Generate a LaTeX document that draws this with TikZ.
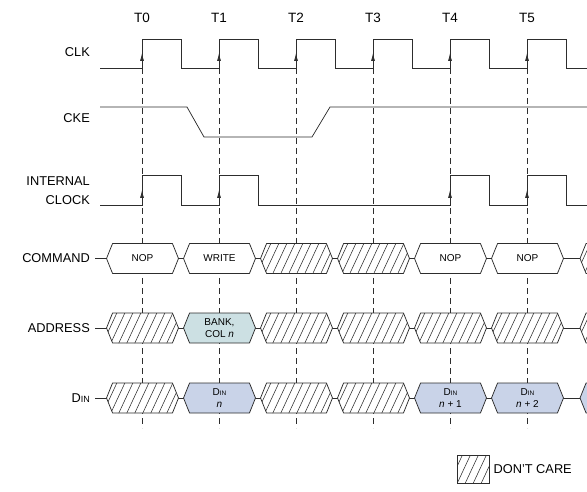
\documentclass[tikz,border=0pt]{standalone}
\usepackage{fontspec}
\setmainfont{Liberation Sans}
\usetikzlibrary{arrows.meta, shapes.symbols}

\definecolor{inkgray}{RGB}{45,45,45}
\definecolor{bankfill}{RGB}{204,224,227}
\definecolor{dinfill}{RGB}{201,211,232}

\begin{document}
\begin{tikzpicture}[
    x=1pt, y=-1pt,
    >=Latex,
    wave/.style={draw=inkgray, line width=0.75pt},
    clkline/.style={draw=inkgray, line width=0.6pt, dash pattern=on 6pt off 4pt},
    edgearrow/.style={-{Latex[length=8pt,width=4pt]}, draw=inkgray, line width=0.75pt},
    rowlabel/.style={anchor=east, inner sep=0pt, align=right, font=\fontsize{12.8}{19}\selectfont},
    ticklabel/.style={inner sep=0pt, font=\fontsize{13.5}{15}\selectfont},
    cell/.style={signal, signal to=east and west, signal pointer angle=136, draw=inkgray, line width=0.75pt,
        fill=white, minimum width=72pt, minimum height=30pt, inner sep=0pt, align=center,
        font=\fontsize{10}{12.5}\selectfont},
    hatch/.style={path picture={
        \foreach \h in {-90,-82,...,90}
          \draw[inkgray, line width=0.55pt] ([shift={(\h pt,-5pt)}]path picture bounding box.south) -- ++(18.7pt,40pt);
    }},
    bankcell/.style={fill=bankfill},
    dincell/.style={fill=dinfill},
    blankcell/.style={}
]
\clip (0,0) rectangle (587,492);

% clock numbers
\foreach \k in {0,...,5}
  \node[ticklabel] (t\k) at ({142+77*\k},18) {T\k};

% row names
\node[rowlabel] (clk) at (90,52) {CLK};
\node[rowlabel] (cke) at (90,118) {CKE};
\node[rowlabel] (iclk) at (90,190.5) {INTERNAL\\CLOCK};
\node[rowlabel] (cmd) at (90,258.5) {COMMAND};
\node[rowlabel] (addr) at (90,328) {ADDRESS};
\node[rowlabel] (din) at (90,398) {D{\fontsize{9}{10}\selectfont IN}};

% dashed clock edges
\foreach \k in {0,...,5}
  \draw[clkline] ({142+77*\k},68) -- ({142+77*\k},428);

% CLK
\draw[wave] (100,68) \foreach \k in {0,...,5} {
    -- ({142+77*\k},68) -- ({142+77*\k},39) -- ({181+77*\k},39) -- ({181+77*\k},68) } -- (587,68);
\foreach \k in {0,...,5}
  \draw[edgearrow] ({142+77*\k},68) -- ({142+77*\k},53);

% CKE
\draw[wave] (100,107) -- (187,107) -- (204,137) -- (312,137) -- (330,107) -- (587,107);

% internal clock
\draw[wave] (100,205) \foreach \k in {0,1,4,5} {
    -- ({142+77*\k},205) -- ({142+77*\k},175) -- ({181+77*\k},175) -- ({181+77*\k},205) } -- (587,205);
\foreach \k in {0,1,4,5}
  \draw[edgearrow] ({142+77*\k},205) -- ({142+77*\k},190);

% bus lines
\draw[wave] (95,258.5) -- (587,258.5);
\draw[wave] (95,328) -- (587,328);
\draw[wave] (95,398) -- (587,398);

% COMMAND
\foreach \k/\txt/\kind in {0/NOP/blankcell, 1/WRITE/blankcell, 2//hatch, 3//hatch, 4/NOP/blankcell, 5/NOP/blankcell}
  \node[cell, \kind] (cmd\k) at ({142.5+77*\k},258.5) {\txt};
\node[cell, hatch] (cmd6) at (616,258.5) {};

% ADDRESS
\foreach \k in {0,2,3,4,5}
  \node[cell, hatch] (addr\k) at ({142.5+77*\k},328) {};
\node[cell, bankcell] (addr1) at (219.5,328) {BANK,\\COL \textit{n}};
\node[cell, hatch] (addr6) at (616,328) {};

% DIN
\foreach \k in {0,2,3}
  \node[cell, hatch] (din\k) at ({142.5+77*\k},398) {};
\node[cell, dincell] (din1) at (219.5,398) {D{\fontsize{6.5}{7}\selectfont IN}\\\textit{n}};
\node[cell, dincell] (din4) at (450.5,398) {D{\fontsize{6.5}{7}\selectfont IN}\\\textit{n} + 1};
\node[cell, dincell] (din5) at (527.5,398) {D{\fontsize{6.5}{7}\selectfont IN}\\\textit{n} + 2};
\node[cell, dincell] (din6) at (616,398) {};

% legend
\node[draw=inkgray, line width=0.75pt, hatch, minimum width=32pt, minimum height=28pt, inner sep=0pt] (dcbox) at (473,469) {};
\node[ticklabel, anchor=west, font=\fontsize{12.8}{15}\selectfont] (dclabel) at ([xshift=4pt]dcbox.east) {DON'T CARE};

\end{tikzpicture}
\end{document}
